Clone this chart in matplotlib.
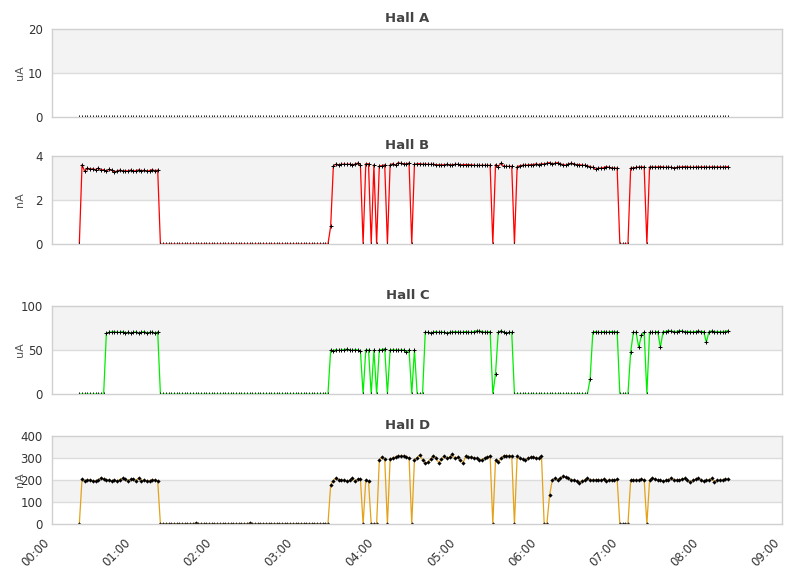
import numpy as np
import matplotlib.pyplot as plt

# one reading every 2 minutes, 00:20 .. 08:20
START_MIN = 20
STEP_MIN = 2
N_SAMPLES = 241
minutes = START_MIN + STEP_MIN * np.arange(N_SAMPLES)

hour_ticks = list(range(0, 541, 60))
hour_labels = ['%02d:00' % h for h in range(10)]

hall_a = [0] * N_SAMPLES

hall_b = ([0]
          + [3.6, 3.3, 3.45, 3.4, 3.42, 3.38, 3.45, 3.35, 3.38, 3.3,
             3.4, 3.35, 3.28, 3.32, 3.36, 3.32, 3.33, 3.32, 3.36, 3.31,
             3.34, 3.37, 3.33, 3.35, 3.31, 3.34, 3.38, 3.33, 3.36]
          + [0] * 63
          + [0.8]
          + [3.55, 3.63, 3.6, 3.62, 3.63, 3.62, 3.63, 3.6, 3.63, 3.68, 3.6]
          + [0] + [3.65, 3.65] + [0] + [3.6] + [0] + [3.55, 3.56, 3.6] + [0]
          + [3.6, 3.65, 3.58, 3.7, 3.66, 3.65, 3.64, 3.68]
          + [0]
          + [3.62, 3.65, 3.65, 3.63, 3.63, 3.62, 3.62, 3.62, 3.61, 3.6,
             3.6, 3.6, 3.62, 3.6, 3.6, 3.62, 3.62, 3.6, 3.61, 3.61,
             3.61, 3.6, 3.58, 3.57, 3.57, 3.58, 3.58, 3.57, 3.58]
          + [0]
          + [3.61, 3.52, 3.67, 3.53, 3.53, 3.53, 3.53]
          + [0]
          + [3.52, 3.56, 3.58, 3.58, 3.59, 3.61, 3.61, 3.64, 3.61, 3.64,
             3.64, 3.67, 3.70, 3.64, 3.67, 3.70, 3.64, 3.61, 3.58, 3.64,
             3.67, 3.64, 3.61, 3.61, 3.58, 3.58, 3.55, 3.52, 3.48, 3.39,
             3.45, 3.45, 3.47, 3.52, 3.48, 3.45, 3.45, 3.45]
          + [0] * 4
          + [3.45, 3.46, 3.48, 3.5, 3.5, 3.5]
          + [0]
          + [3.5, 3.5, 3.5, 3.5, 3.52, 3.5, 3.48, 3.5, 3.48, 3.46,
             3.48, 3.5, 3.5, 3.52, 3.5, 3.5, 3.48, 3.5, 3.5, 3.5,
             3.5, 3.49, 3.5, 3.5, 3.5, 3.5, 3.5, 3.5, 3.5, 3.52])

hall_c = ([0] * 10
          + [69, 70, 70.5, 71, 70, 70, 71, 69.5, 70, 69,
             70, 70.5, 69.5, 70, 71, 69.5, 70, 70.5, 69, 70.5]
          + [0] * 63
          + [50, 49, 50.5, 49.5, 50, 50.5, 51, 50, 49.5, 50.5, 50, 49]
          + [0] + [50, 50] + [0] + [50] + [0] + [50, 50.5, 51.5] + [0]
          + [50, 50.5, 50, 50, 50, 50, 47.5, 50]
          + [0] + [50] + [0] * 3
          + [70, 70, 69.5, 70, 71, 70, 70.5, 70, 69, 70,
             70.5, 71, 70.5, 70, 70.5, 71, 70.5, 70, 71, 72,
             71.5, 71, 70.5, 70, 71]
          + [0] + [23]
          + [70, 72, 70, 69, 70, 70]
          + [0] * 28
          + [17]
          + [70, 71, 70, 70, 71, 70, 70.5, 71, 70.5, 71]
          + [0] * 4
          + [47.5, 70, 70, 53, 67, 70]
          + [0]
          + [70, 70, 70, 71]
          + [53]
          + [71, 71, 72, 71.5, 71, 71, 72, 71.5, 71, 71,
             71, 70.5, 71, 71.5, 71, 71]
          + [59]
          + [71, 71.5, 71, 71, 70.5, 71, 71, 72])

hall_d = ([0]
          + [205, 195, 200, 200, 197, 195, 200, 210, 205, 200,
             200, 196, 200, 195, 202, 208, 203, 197, 203, 205,
             196, 210, 197, 200, 196, 195, 202, 200, 196]
          + [0] * 13 + [5] + [0] * 19 + [5] + [0] * 29
          + [178]
          + [197, 209, 200, 200, 198, 195, 198, 210, 195, 203, 205]
          + [0] + [200, 195] + [0] * 3 + [290, 305, 295] + [0]
          + [295, 301, 304, 310, 307, 310, 304, 301]
          + [0]
          + [292, 301, 314, 292, 277, 280, 295, 311, 301, 277,
             295, 307, 298, 304, 316, 298, 304, 292, 277, 310,
             304, 304, 301, 298, 292, 292, 301, 304, 310]
          + [0]
          + [292, 280, 298, 310, 307, 310, 310]
          + [0]
          + [307, 298, 295, 292, 298, 304, 304, 301, 298, 310]
          + [0] * 2
          + [130]
          + [200, 207, 200, 207, 216, 213, 207, 200, 198, 195,
             186, 197, 200, 207, 198, 200, 200, 200, 198, 204,
             197, 200, 198, 200, 204]
          + [0] * 4
          + [198, 198, 200, 198, 204, 200]
          + [0]
          + [198, 210, 204, 198, 198, 195, 198, 200, 210, 198,
             200, 200, 204, 207, 198, 192, 198, 204, 207, 200,
             195, 198, 200, 207, 192, 198, 198, 200, 204, 205])

for s in (hall_a, hall_b, hall_c, hall_d):
    assert len(s) == N_SAMPLES, len(s)

panels = [
    ('Hall A', 'uA', hall_a, [0, 10, 20], '#4a7ebb', '+'),
    ('Hall B', 'nA', hall_b, [0, 2, 4], '#ff0000', '+'),
    ('Hall C', 'uA', hall_c, [0, 50, 100], '#00ee00', '+'),
    ('Hall D', 'nA', hall_d, [0, 100, 200, 300, 400], '#e3a21a', 'D'),
]

# axes boxes in pixels: (top, bottom)
W, H = 811, 578
LEFT, RIGHT = 52.3, 782
boxes = [(29, 117), (156, 244), (306, 394), (436, 524)]

fig = plt.figure(figsize=(W / 100, H / 100), dpi=100)

for (title, unit, vals, yticks, color, mk), (top, bot) in zip(panels, boxes):
    ax = fig.add_axes([LEFT / W, (H - bot) / H, (RIGHT - LEFT) / W, (bot - top) / H])
    ymax = yticks[-1]
    # alternating bands, grey on top
    step = yticks[1] - yticks[0]
    for k in range(len(yticks) - 1):
        lo = yticks[k]
        if (len(yticks) - 2 - k) % 2 == 0:
            ax.axhspan(lo, lo + step, color='#f3f3f3', lw=0, zorder=0)
    for y in yticks[1:-1]:
        ax.axhline(y, color='#dcdcdc', lw=1, zorder=1)

    if mk == 'D':
        ax.plot(minutes, vals, color=color, lw=0.9, marker='D', ms=1.9,
                mfc='black', mec='black', mew=0.2, zorder=2)
    elif title == 'Hall A':
        ax.plot(minutes, vals, ls='none', marker='+', ms=3.2, mec='black',
                mew=0.7, zorder=2)
    else:
        ax.plot(minutes, vals, color=color, lw=0.9, marker='+', ms=3.0,
                mec='black', mew=0.7, zorder=2)

    ax.set_xlim(0, 540)
    ax.set_ylim(0, ymax)
    ax.set_yticks(yticks)
    ax.set_xticks(hour_ticks)
    ax.tick_params(length=0, labelsize=8.5, labelcolor='#333333', pad=7)
    for sp in ax.spines.values():
        sp.set_color('#d0d0d0')
        sp.set_linewidth(1)
    ax.set_ylabel(unit, fontsize=8, color='#555555')
    ax.yaxis.set_label_coords(-0.0374, 0.5)
    ax.text(0.4868, 1 + 10.5 / (bot - top), title, transform=ax.transAxes,
            ha='center', va='center', fontsize=9.5, fontweight='bold', color='#444444')
    if title == 'Hall D':
        ax.set_xticklabels(hour_labels, rotation=45, ha='right')
        ax.tick_params(axis='x', pad=9)
    else:
        ax.set_xticklabels([])

fig.savefig('out.png', dpi=100)
